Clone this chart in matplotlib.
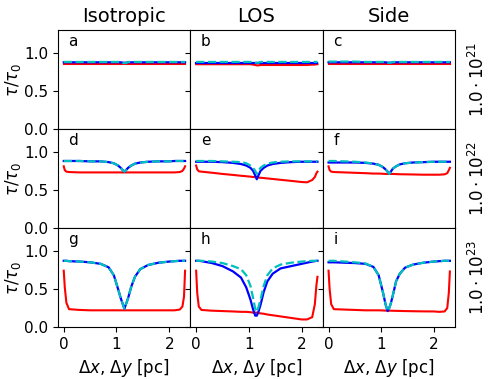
import matplotlib
matplotlib.use('Agg')
import matplotlib.pyplot as plt

# shared sampling positions along the cut [pc]
x = [0.0, 0.02, 0.05, 0.1, 0.3, 0.5, 0.7, 0.85, 0.95, 1.03, 1.08, 1.12, 1.15,
     1.18, 1.22, 1.28, 1.35, 1.45, 1.6, 1.8, 2.0, 2.1, 2.2, 2.25, 2.28, 2.3]

columns = ['Isotropic', 'LOS', 'Side']
row_labels = [r'$1.0\cdot10^{21}$', r'$1.0\cdot10^{22}$', r'$1.0\cdot10^{23}$']
letters = ['a', 'b', 'c', 'd', 'e', 'f', 'g', 'h', 'i']

# --- row 1 ---
red_a = [0.85] * 26
blue_a = [0.875] * 11 + [0.87, 0.87, 0.87] + [0.875] * 12
cyan_a = [0.88] * 11 + [0.865, 0.865, 0.865] + [0.88] * 12

red_b = [0.85] * 10 + [0.845, 0.84, 0.835, 0.835, 0.84] + [0.84] * 7 + [0.845, 0.845, 0.85, 0.85]
blue_b = [0.87] * 26
cyan_b = [0.88] * 11 + [0.87, 0.87, 0.87] + [0.88] * 12

red_c = [0.85] * 26
blue_c = [0.875] * 11 + [0.87, 0.87, 0.87] + [0.875] * 12
cyan_c = [0.885] * 6 + [0.88] * 5 + [0.87, 0.87, 0.87] + [0.88] * 12

# --- row 2 ---
red_d = [0.81, 0.76, 0.74, 0.735, 0.73, 0.73, 0.73, 0.73, 0.73, 0.73, 0.73, 0.73, 0.73,
         0.73, 0.73, 0.73, 0.73, 0.73, 0.73, 0.73, 0.73, 0.73, 0.735, 0.75, 0.78, 0.81]
blue_d = [0.88, 0.88, 0.88, 0.88, 0.88, 0.875, 0.875, 0.865, 0.85, 0.82, 0.79, 0.76, 0.74,
          0.76, 0.79, 0.82, 0.845, 0.86, 0.87, 0.875, 0.875, 0.88, 0.88, 0.88, 0.88, 0.88]
cyan_d = blue_d

red_e = [0.82, 0.77, 0.745, 0.74, 0.726, 0.71, 0.697, 0.686, 0.68, 0.674, 0.67, 0.668, 0.666,
         0.663, 0.66, 0.656, 0.651, 0.644, 0.633, 0.619, 0.604, 0.60, 0.63, 0.67, 0.72, 0.74]
blue_e = [0.87, 0.87, 0.87, 0.87, 0.87, 0.865, 0.855, 0.84, 0.82, 0.79, 0.75, 0.69, 0.64,
          0.69, 0.75, 0.79, 0.82, 0.84, 0.855, 0.865, 0.87, 0.87, 0.87, 0.87, 0.87, 0.87]
cyan_e = [0.88, 0.88, 0.88, 0.88, 0.88, 0.875, 0.87, 0.865, 0.85, 0.82, 0.79, 0.75, 0.71,
          0.75, 0.79, 0.82, 0.845, 0.86, 0.87, 0.875, 0.875, 0.875, 0.875, 0.875, 0.875, 0.875]

red_f = [0.81, 0.76, 0.74, 0.735, 0.73, 0.725, 0.72, 0.715, 0.715, 0.712, 0.71, 0.71, 0.71,
         0.71, 0.71, 0.708, 0.706, 0.705, 0.703, 0.70, 0.70, 0.70, 0.705, 0.72, 0.76, 0.79]
blue_f = [0.86, 0.86, 0.86, 0.86, 0.86, 0.86, 0.855, 0.845, 0.83, 0.80, 0.77, 0.74, 0.71,
          0.74, 0.78, 0.81, 0.835, 0.85, 0.86, 0.865, 0.87, 0.87, 0.87, 0.87, 0.87, 0.87]
cyan_f = [0.88, 0.88, 0.88, 0.88, 0.875, 0.87, 0.86, 0.845, 0.83, 0.80, 0.77, 0.74, 0.71,
          0.74, 0.78, 0.81, 0.835, 0.85, 0.86, 0.865, 0.87, 0.87, 0.87, 0.87, 0.87, 0.87]

# --- row 3 ---
red_g = [0.74, 0.52, 0.32, 0.235, 0.225, 0.22, 0.22, 0.22, 0.22, 0.22, 0.22, 0.22, 0.22,
         0.22, 0.22, 0.22, 0.22, 0.22, 0.22, 0.22, 0.22, 0.22, 0.23, 0.27, 0.40, 0.74]
blue_g = [0.87, 0.87, 0.87, 0.865, 0.86, 0.85, 0.83, 0.785, 0.68, 0.50, 0.38, 0.30, 0.24,
          0.30, 0.38, 0.53, 0.66, 0.76, 0.815, 0.845, 0.86, 0.865, 0.87, 0.87, 0.87, 0.87]
cyan_g = blue_g

red_h = [0.74, 0.45, 0.27, 0.225, 0.215, 0.21, 0.205, 0.20, 0.20, 0.195, 0.19, 0.19, 0.19,
         0.185, 0.18, 0.175, 0.165, 0.155, 0.14, 0.12, 0.10, 0.10, 0.13, 0.30, 0.55, 0.66]
blue_h = [0.87, 0.87, 0.87, 0.865, 0.84, 0.80, 0.73, 0.65, 0.52, 0.36, 0.23, 0.15, 0.15,
          0.20, 0.29, 0.46, 0.60, 0.70, 0.77, 0.80, 0.83, 0.845, 0.86, 0.865, 0.87, 0.87]
cyan_h = [0.87, 0.87, 0.87, 0.87, 0.86, 0.84, 0.80, 0.76, 0.68, 0.54, 0.38, 0.24, 0.20,
          0.26, 0.36, 0.54, 0.68, 0.77, 0.82, 0.845, 0.86, 0.865, 0.87, 0.87, 0.87, 0.87]

red_i = [0.74, 0.50, 0.30, 0.235, 0.23, 0.225, 0.22, 0.22, 0.22, 0.218, 0.216, 0.215, 0.215,
         0.215, 0.214, 0.213, 0.212, 0.21, 0.208, 0.206, 0.205, 0.20, 0.205, 0.25, 0.45, 0.73]
blue_i = [0.85, 0.85, 0.85, 0.85, 0.845, 0.84, 0.83, 0.79, 0.68, 0.46, 0.30, 0.21, 0.25,
          0.31, 0.42, 0.60, 0.70, 0.78, 0.82, 0.845, 0.86, 0.865, 0.87, 0.87, 0.87, 0.87]
cyan_i = [0.87, 0.87, 0.87, 0.87, 0.86, 0.85, 0.835, 0.79, 0.68, 0.46, 0.30, 0.21, 0.25,
          0.31, 0.42, 0.60, 0.70, 0.78, 0.82, 0.845, 0.86, 0.865, 0.87, 0.87, 0.87, 0.87]

reds = [red_a, red_b, red_c, red_d, red_e, red_f, red_g, red_h, red_i]
blues = [blue_a, blue_b, blue_c, blue_d, blue_e, blue_f, blue_g, blue_h, blue_i]
cyans = [cyan_a, cyan_b, cyan_c, cyan_d, cyan_e, cyan_f, cyan_g, cyan_h, cyan_i]

fig, axes = plt.subplots(3, 3, figsize=(4.91, 3.79), dpi=100, sharex=True, sharey=True)
fig.subplots_adjust(left=0.118, right=0.927, top=0.921, bottom=0.137, wspace=0, hspace=0)

for k, ax in enumerate(axes.flat):
    r, c = divmod(k, 3)
    ax.plot(x, reds[k], color='r', lw=1.5)
    ax.plot(x, blues[k], color='b', lw=1.6)
    ax.plot(x, cyans[k], color='c', lw=1.6, ls='--')
    ax.text(0.08, 0.84, letters[k], transform=ax.transAxes, fontsize=11)
    ax.set_xlim(-0.11, 2.4)
    ax.set_ylim(0, 1.3)
    ax.set_yticks([0.0, 0.5, 1.0])
    ax.set_xticks([0, 1, 2])
    ax.tick_params(labelsize=11)
    if r < 2:
        ax.tick_params(bottom=False)
    else:
        ax.set_xlabel(r'$\Delta x$, $\Delta y$ [pc]', fontsize=12)
    if c == 0:
        ax.set_ylabel(r'$\tau/\tau_0$', fontsize=12, labelpad=1)
    if r == 0:
        ax.set_title(columns[c], fontsize=14)
    if c == 2:
        ax.text(1.17, 0.5, row_labels[r], transform=ax.transAxes, rotation=90,
                va='center', ha='center', fontsize=12)

fig.savefig('out.png', dpi=100)
